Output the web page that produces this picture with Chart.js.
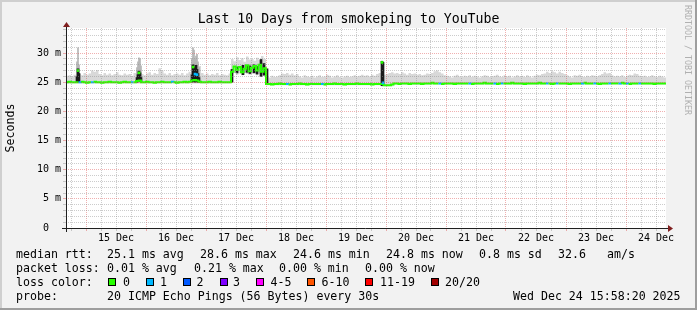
<!DOCTYPE html>
<html>
<head>
<meta charset="utf-8">
<title>Last 10 Days from smokeping to YouTube</title>
<script src="https://cdn.jsdelivr.net/npm/chart.js@4.4.1/dist/chart.umd.min.js"></script>
<style>
  body { margin: 0; background: #f2f2f2; }
  #wrap { position: relative; width: 697px; height: 310px; overflow: hidden; }
  #graph { position: absolute; left: 0; top: 0; }
  .txt { position: absolute; font: 11.6px 'DejaVu Sans Mono', monospace; line-height: 14px; white-space: pre; color: #000; }
  .box { position: absolute; width: 8px; height: 8px; box-sizing: border-box; border: 1px solid #000; }
  #credit { position: absolute; left: 683px; top: 5px; writing-mode: vertical-rl; font: 8.3px 'DejaVu Sans Mono', monospace; line-height: 9px; color: #b0b0b0; white-space: pre; }
</style>
</head>
<body>
<div id="wrap">
  <canvas id="graph" width="697" height="310"></canvas>
  <div id="credit">RRDTOOL / TOBI OETIKER</div>
  <div id="legend"></div>
</div>
<script>
// hours since Dec 14 16:00, one value per hour (240 hours)
const medianRtt = [
  25.0, 25.1, 25.0, 25.0, 25.0, 25.0, 25.1, 25.0, 24.9, 25.0, 25.0, 25.1, 25.0, 25.0, 24.9, 25.0, 25.0, 25.1, 25.0, 25.0,
  25.0, 24.9, 25.0, 25.1, 25.0, 25.0, 25.0, 25.0, 25.2, 25.3, 25.0, 25.0, 25.1, 25.0, 25.0, 24.9, 25.0, 25.0, 25.1, 25.0,
  25.0, 25.0, 25.1, 25.0, 24.9, 25.0, 25.0, 25.1, 25.0, 25.1, 25.3, 25.4, 25.3, 25.1, 25.0, 25.0, 25.0, 25.1, 25.0, 25.0,
  25.0, 25.1, 25.0, 25.0, 25.0, 25.0, 26.8, 27.7, 27.1, 27.6, 26.7, 27.3, 27.9, 26.9, 27.5, 27.8, 27.0, 28.0, 26.8, 27.4,
  24.7, 24.7, 24.6, 24.7, 24.7, 24.8, 24.7, 24.7, 24.7, 24.6, 24.7, 24.7, 24.7, 24.8, 24.7, 24.7, 24.6, 24.7, 24.7, 24.7,
  24.7, 24.7, 24.7, 24.6, 24.7, 24.7, 24.7, 24.8, 24.7, 24.7, 24.7, 24.6, 24.7, 24.7, 24.7, 24.7, 24.8, 24.7, 24.7, 24.7,
  24.7, 24.7, 24.6, 24.7, 24.7, 24.7, 24.7, 24.5, 24.5, 24.5, 24.6, 24.8, 24.8, 24.7, 24.8, 24.8, 24.8, 24.7, 24.8, 24.8,
  24.8, 24.8, 24.7, 24.8, 24.8, 24.8, 24.9, 24.8, 24.8, 24.8, 24.7, 24.8, 24.8, 24.8, 24.8, 24.7, 24.8, 24.8, 24.8, 24.8,
  24.8, 24.8, 24.7, 24.8, 24.8, 24.8, 24.8, 24.9, 24.8, 24.8, 24.8, 24.8, 24.7, 24.8, 24.8, 24.8, 24.8, 24.8, 24.9, 24.8,
  24.8, 24.8, 24.8, 24.7, 24.8, 24.8, 24.8, 24.8, 24.8, 24.9, 24.8, 24.8, 24.8, 24.8, 24.7, 24.8, 24.8, 24.8, 24.8, 24.8,
  24.8, 24.7, 24.8, 24.8, 24.8, 24.8, 24.8, 24.9, 24.8, 24.8, 24.8, 24.8, 24.8, 24.7, 24.8, 24.8, 24.8, 24.8, 24.8, 24.8,
  24.8, 24.8, 24.9, 24.8, 24.8, 24.7, 24.8, 24.8, 24.8, 24.8, 24.8, 24.8, 24.8, 24.8, 24.8, 24.7, 24.8, 24.8, 24.8, 24.8
];

// top of the smoke (slowest ping) per hour
const smokeHigh = [
  26.1, 26.2, 26.0, 26.3, 26.5, 26.4, 26.2, 26.6, 26.3, 26.5, 27.0, 26.8, 27.1, 26.4, 26.2, 26.6, 26.3, 26.5, 26.2, 26.4,
  26.7, 26.3, 26.2, 26.5, 26.3, 26.4, 26.1, 26.6, 27.0, 27.3, 26.4, 26.2, 26.5, 26.7, 26.3, 26.6, 26.4, 27.4, 27.0, 26.5,
  26.3, 26.6, 26.2, 26.4, 26.5, 26.3, 26.6, 26.2, 26.5, 26.8, 28.0, 28.5, 28.2, 27.8, 26.6, 26.3, 26.5, 26.2, 26.4, 26.3,
  26.6, 26.2, 26.4, 26.3, 26.2, 26.5, 29.0, 28.6, 29.3, 28.8, 29.1, 28.5, 29.4, 28.9, 29.0, 28.7, 29.2, 28.8, 29.5, 29.0,
  26.0, 25.8, 26.1, 25.9, 26.0, 26.2, 26.5, 26.4, 26.6, 26.3, 26.5, 26.2, 26.4, 26.0, 25.8, 26.2, 26.0, 25.9, 26.1, 25.8,
  26.0, 26.2, 25.9, 26.0, 26.3, 26.1, 25.8, 26.0, 26.2, 25.9, 25.8, 26.0, 26.1, 25.9, 26.0, 26.2, 26.0, 26.1, 26.3, 26.1,
  26.2, 26.0, 26.3, 26.1, 26.4, 26.6, 26.5, 26.3, 26.4, 26.6, 26.7, 26.5, 26.6, 26.4, 26.7, 26.5, 26.3, 26.6, 26.4, 26.5,
  26.3, 26.4, 26.2, 26.3, 26.5, 26.4, 26.6, 26.9, 27.0, 26.7, 26.5, 26.2, 26.1, 26.0, 25.8, 26.1, 26.3, 26.0, 25.9, 26.1,
  26.0, 26.2, 25.9, 26.1, 26.0, 25.8, 26.0, 26.2, 26.1, 25.9, 26.0, 26.1, 26.3, 26.0, 25.9, 26.2, 26.0, 26.1, 25.8, 26.0,
  26.2, 26.0, 26.1, 25.9, 26.2, 26.0, 25.8, 26.1, 26.3, 26.2, 26.4, 26.5, 26.8, 26.6, 26.9, 26.7, 26.5, 26.8, 26.6, 26.4,
  26.2, 26.0, 25.8, 26.2, 26.1, 26.3, 26.0, 25.9, 26.1, 26.0, 26.2, 26.1, 26.0, 26.2, 26.4, 26.7, 26.5, 26.6, 26.2, 26.0,
  26.1, 26.0, 26.2, 25.9, 26.1, 26.3, 26.2, 26.5, 26.4, 26.1, 26.0, 26.1, 25.9, 26.0, 26.2, 26.0, 25.9, 26.1, 26.0, 25.8
];

// bottom of the smoke (fastest ping) per hour
const smokeLow = [
  24.8, 24.8, 24.8, 24.8, 24.8, 24.8, 24.8, 24.8, 24.8, 24.8, 24.8, 24.8, 24.8, 24.8, 24.8, 24.8, 24.8, 24.8, 24.8, 24.8,
  24.8, 24.8, 24.8, 24.8, 24.8, 24.8, 24.8, 24.8, 24.8, 24.8, 24.8, 24.8, 24.8, 24.8, 24.8, 24.8, 24.8, 24.8, 24.8, 24.8,
  24.8, 24.8, 24.8, 24.8, 24.8, 24.8, 24.8, 24.8, 24.8, 24.8, 24.8, 24.8, 24.8, 24.8, 24.8, 24.8, 24.8, 24.8, 24.8, 24.8,
  24.8, 24.8, 24.8, 24.8, 24.8, 24.8, 26.4, 26.6, 26.3, 26.5, 26.2, 26.6, 26.4, 26.3, 26.5, 26.6, 26.2, 26.4, 26.5, 26.3,
  24.5, 24.5, 24.5, 24.5, 24.5, 24.5, 24.5, 24.5, 24.5, 24.5, 24.5, 24.5, 24.5, 24.5, 24.5, 24.5, 24.5, 24.5, 24.5, 24.5,
  24.5, 24.5, 24.5, 24.5, 24.5, 24.5, 24.5, 24.5, 24.5, 24.5, 24.5, 24.5, 24.5, 24.5, 24.5, 24.5, 24.5, 24.5, 24.5, 24.5,
  24.5, 24.5, 24.5, 24.5, 24.5, 24.5, 24.5, 24.3, 24.3, 24.3, 24.3, 24.6, 24.6, 24.6, 24.6, 24.6, 24.6, 24.6, 24.6, 24.6,
  24.6, 24.6, 24.6, 24.6, 24.6, 24.6, 24.6, 24.6, 24.6, 24.6, 24.6, 24.6, 24.6, 24.6, 24.6, 24.6, 24.6, 24.6, 24.6, 24.6,
  24.6, 24.6, 24.6, 24.6, 24.6, 24.6, 24.6, 24.6, 24.6, 24.6, 24.6, 24.6, 24.6, 24.6, 24.6, 24.6, 24.6, 24.6, 24.6, 24.6,
  24.6, 24.6, 24.6, 24.6, 24.6, 24.6, 24.6, 24.6, 24.6, 24.6, 24.6, 24.6, 24.6, 24.6, 24.6, 24.6, 24.6, 24.6, 24.6, 24.6,
  24.6, 24.6, 24.6, 24.6, 24.6, 24.6, 24.6, 24.6, 24.6, 24.6, 24.6, 24.6, 24.6, 24.6, 24.6, 24.6, 24.6, 24.6, 24.6, 24.6,
  24.6, 24.6, 24.6, 24.6, 24.6, 24.6, 24.6, 24.6, 24.6, 24.6, 24.6, 24.6, 24.6, 24.6, 24.6, 24.6, 24.6, 24.6, 24.6, 24.6
];

// hours whose median was drawn with 1/20 loss
const lossHours = [5, 10, 26, 42, 88, 102, 149, 161, 171, 174, 192, 196, 206, 211, 217, 221, 224, 229];

// short spikes and dense smoke, read column by column
const spikeHours  = [4.4, 4.8, 5.2, 28.4, 28.8, 29.2, 29.6, 30.0, 50.4, 50.8, 51.2, 51.6, 52.0, 52.4, 52.8, 53.2,
                     66.4, 68.4, 70.8, 72.4, 73.6, 75.2, 76.4, 78.0, 79.2, 80.4, 126.4, 126.8];
const spikeLow    = [25.0, 25.2, 25.0, 25.0, 25.1, 25.3, 25.2, 25.0, 25.0, 25.1, 25.2, 25.0, 25.3, 25.1, 25.0, 25.0,
                     25.0, 26.6, 26.3, 26.7, 26.5, 26.6, 26.4, 26.0, 26.2, 24.6, 24.4, 24.5];
const spikeHigh   = [26.0, 27.3, 26.5, 25.8, 26.3, 26.9, 26.6, 25.8, 26.3, 28.0, 27.5, 26.8, 27.9, 27.2, 26.5, 25.8,
                     27.2, 27.6, 27.9, 27.8, 27.8, 28.0, 27.7, 28.9, 28.2, 27.3, 28.6, 28.4];
const spikeMedian = [null, 27.0, null, null, null, 26.6, null, null, null, 27.6, null, 26.4, null, 26.3, null, null,
                     null, null, null, null, null, null, null, null, null, null, 28.4, 24.9];
const spikeSmoke  = [28.5, 30.9, 28.0, 27.5, 28.5, 29.2, 29.0, 27.8, 29.0, 30.9, 30.5, 29.0, 29.5, 29.8, 28.5, 27.5,
                     null, null, null, null, null, null, null, null, null, null, 28.6, 28.0];
const spikeLoss   = [0, 0, 0, 0, 0, 0, 0, 0, 0, 0, 0, 1, 0, 1, 0, 0,
                     0, 0, 0, 0, 0, 0, 0, 0, 0, 0, 0, 1];

const dayLabels = ['15 Dec', '16 Dec', '17 Dec', '18 Dec', '19 Dec', '20 Dec', '21 Dec', '22 Dec', '23 Dec', '24 Dec'];

const lossLabels = ['0', '1', '2', '3', '4-5', '6-10', '11-19', '20/20'];
const lossColors = ['#26ff00', '#00b8ff', '#0059ff', '#7e00ff', '#ff00ff', '#ff5500', '#ff0000', '#a10000'];

const rttStats = ['25.1 ms avg', '28.6 ms max', '24.6 ms min', '24.8 ms now', '0.8 ms sd', '32.6', 'am/s'];
const lossStats = ['0.01 % avg', '0.21 % max', '0.00 % min', '0.00 % now'];
const probeText = '20 ICMP Echo Pings (56 Bytes) every 30s';
const stampText = 'Wed Dec 24 15:58:20 2025';

// legend layout
const rttX = [107, 200, 293, 386, 479, 558, 607];
const lossX = [107, 194, 279, 365];
const boxX = [108, 145.5, 182.5, 219.5, 256, 307, 365, 430.5];
const swatchLabelX = [123, 160, 196.5, 233, 270.5, 321.5, 380, 445];

const GRID = 'rgba(143,143,143,0.45)';
const MGRID = 'rgba(222,79,79,0.45)';
const MONO = "'DejaVu Sans Mono', monospace";

function addText(text, x, top) {
    const el = document.createElement('div');
    el.className = 'txt';
    el.style.left = x + 'px';
    el.style.top = top + 'px';
    el.textContent = text;
    document.getElementById('legend').appendChild(el);
}

function build_Legend() {
    addText('median rtt:', 16, 247);
    rttStats.forEach((s, i) => addText(s, rttX[i], 247));
    addText('packet loss:', 16, 261);
    lossStats.forEach((s, i) => addText(s, lossX[i], 261));
    addText('loss color:', 16, 275);
    lossLabels.forEach((s, i) => {
        const b = document.createElement('div');
        b.className = 'box';
        b.style.left = boxX[i] + 'px';
        b.style.top = '278px';
        b.style.background = lossColors[i];
        document.getElementById('legend').appendChild(b);
        addText(s, swatchLabelX[i], 275);
    });
    addText('probe:', 16, 289);
    addText(probeText, 107, 289);
    addText(stampText, 513, 289);
}

// rrdtool look: grey frame, white canvas, axes with arrows
const rrdFrame = {
    id: 'rrdFrame',
    beforeDraw(chart) {
        const { ctx, width, height, chartArea: a } = chart;
        ctx.save();
        ctx.fillStyle = '#f2f2f2';
        ctx.fillRect(0, 0, width, height);
        ctx.fillStyle = '#cfcfcf';
        ctx.fillRect(0, 0, width, 2);
        ctx.fillRect(0, 0, 2, height);
        ctx.fillStyle = '#9e9e9e';
        ctx.fillRect(0, height - 2, width, 2);
        ctx.fillRect(width - 2, 0, 2, height);
        ctx.fillStyle = '#ffffff';
        ctx.fillRect(a.left, a.top, a.right - a.left, a.bottom - a.top);
        ctx.restore();
    },
    afterDraw(chart) {
        const { ctx, chartArea: a } = chart;
        const x0 = a.left + 0.5;
        const y0 = a.bottom + 0.5;
        ctx.save();
        ctx.strokeStyle = '#1f1f1f';
        ctx.lineWidth = 1;
        ctx.beginPath();
        ctx.moveTo(a.left - 4, y0);
        ctx.lineTo(a.right + 3, y0);
        ctx.moveTo(x0, a.bottom + 4);
        ctx.lineTo(x0, a.top - 3);
        ctx.stroke();
        ctx.fillStyle = '#801f1f';
        ctx.beginPath();
        ctx.moveTo(a.right + 2, y0 - 3.5);
        ctx.lineTo(a.right + 7, y0);
        ctx.lineTo(a.right + 2, y0 + 3.5);
        ctx.closePath();
        ctx.fill();
        ctx.beginPath();
        ctx.moveTo(x0 - 3.5, a.top - 1);
        ctx.lineTo(x0, a.top - 6);
        ctx.lineTo(x0 + 3.5, a.top - 1);
        ctx.closePath();
        ctx.fill();
        ctx.restore();
    }
};

function create_Graph() {
    const hourly = values => values.map((v, i) => ({ x: i, y: v })).concat([{ x: values.length, y: values[values.length - 1] }]);
    const gridHours = Array.from({ length: 40 }, (_, i) => 2 + 6 * i);
    const gridMs = Array.from({ length: 35 }, (_, i) => i);

    const spikes = (lo, hi) => spikeHours
        .map((h, i) => ({ x: h, y: [lo(i), hi(i)] }))
        .filter(p => p.y[0] !== null && p.y[1] !== null);

    const spikeMedianBars = spikeHours
        .map((h, i) => ({ x: h, y: spikeMedian[i] === null ? null : [spikeMedian[i] - 0.17, spikeMedian[i] + 0.17], loss: spikeLoss[i] }))
        .filter(p => p.y !== null);

    new Chart(document.getElementById('graph'), {
        type: 'line',
        data: {
            datasets: [
                {
                    label: 'smoke',
                    data: hourly(smokeHigh),
                    stepped: true,
                    borderWidth: 0,
                    pointRadius: 0,
                    backgroundColor: '#d8d8d8',
                    fill: '+1',
                    order: 7
                },
                {
                    label: 'smoke low',
                    data: hourly(smokeLow),
                    stepped: true,
                    borderWidth: 0,
                    pointRadius: 0,
                    fill: false,
                    order: 8
                },
                {
                    type: 'bar',
                    label: 'smoke spikes',
                    data: spikes(i => spikeHigh[i], i => spikeSmoke[i]),
                    backgroundColor: '#b4b4b4',
                    barThickness: 1,
                    grouped: false,
                    borderWidth: 0,
                    order: 6
                },
                {
                    type: 'bar',
                    label: 'dense smoke',
                    data: spikes(i => spikeLow[i], i => spikeHigh[i]),
                    backgroundColor: '#1a1a1a',
                    barThickness: 2,
                    grouped: false,
                    borderWidth: 0,
                    order: 5
                },
                {
                    label: 'median rtt',
                    data: hourly(medianRtt),
                    stepped: true,
                    borderWidth: 2,
                    pointRadius: 0,
                    fill: false,
                    borderColor: lossColors[0],
                    segment: {
                        borderColor: ctx => lossHours.includes(ctx.p0.parsed.x) ? lossColors[1] : lossColors[0]
                    },
                    order: 4
                },
                {
                    type: 'bar',
                    label: 'median spikes',
                    data: spikeMedianBars,
                    backgroundColor: ctx => ctx.raw && ctx.raw.loss ? lossColors[1] : lossColors[0],
                    barThickness: 2,
                    grouped: false,
                    borderWidth: 0,
                    order: 3
                }
            ]
        },
        options: {
            responsive: false,
            animation: false,
            layout: { padding: 0 },
            plugins: {
                legend: { display: false },
                tooltip: { enabled: false },
                title: {
                    display: true,
                    text: 'Last 10 Days from smokeping to YouTube',
                    color: '#000',
                    font: { family: MONO, size: 13.2, weight: 'normal', lineHeight: 1.2 },
                    padding: { top: 12, bottom: 0.16 }
                }
            },
            scales: {
                x: {
                    type: 'linear',
                    min: 0,
                    max: 240,
                    offset: false,
                    afterBuildTicks: scale => { scale.ticks = gridHours.map(v => ({ value: v })); },
                    afterFit: scale => { scale.height = 82; },
                    ticks: {
                        autoSkip: false,
                        maxRotation: 0,
                        padding: 1,
                        color: '#000',
                        font: { family: MONO, size: 10 },
                        callback: v => (v - 20) % 24 === 0 ? dayLabels[(v - 20) / 24] : ''
                    },
                    grid: {
                        offset: false,
                        z: 1,
                        tickLength: 3,
                        color: ctx => (ctx.tick.value - 8) % 24 === 0 ? MGRID : GRID
                    },
                    border: { display: false, dash: [1, 1] }
                },
                y: {
                    min: 0,
                    max: 34.3,
                    afterBuildTicks: scale => { scale.ticks = gridMs.map(v => ({ value: v })); },
                    afterFit: scale => { scale.width = 66; },
                    ticks: {
                        autoSkip: false,
                        padding: 2,
                        color: '#000',
                        font: { family: MONO, size: 10 },
                        callback: v => v % 5 !== 0 ? '' : (v === 0 ? '0  ' : v + ' m')
                    },
                    grid: {
                        z: 1,
                        tickLength: 3,
                        color: ctx => ctx.tick.value % 5 === 0 ? MGRID : GRID
                    },
                    border: { display: false, dash: [1, 1] },
                    title: {
                        display: true,
                        text: 'Seconds',
                        color: '#000',
                        font: { family: MONO, size: 11.6 },
                        padding: { top: 4, bottom: 0 }
                    }
                },
                // empty right margin so the title stays centred on the whole image
                margin: {
                    type: 'linear',
                    position: 'right',
                    afterFit: scale => { scale.width = 31; },
                    ticks: { display: false },
                    grid: { display: false },
                    border: { display: false }
                }
            }
        },
        plugins: [rrdFrame]
    });

    build_Legend();
}

window.onload = create_Graph;
</script>
</body>
</html>
